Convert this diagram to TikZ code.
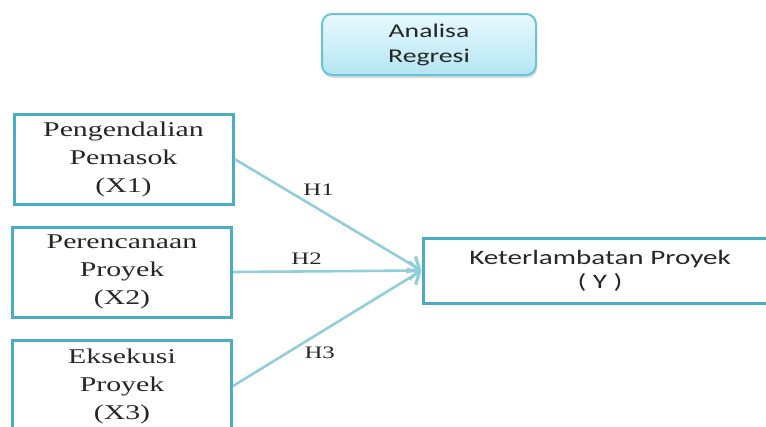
\documentclass[tikz,border=0pt]{standalone}
\usepackage{fontspec}
\usetikzlibrary{arrows.meta,shadows}
\newfontfamily\serifwide[FakeStretch=1.42]{Liberation Serif}
\newfontfamily\sanswide[FakeStretch=1.42]{Carlito}
\definecolor{boxline}{HTML}{4BACC6}
\definecolor{arrowline}{HTML}{92CDDC}
\definecolor{topfillA}{HTML}{E8F9FE}
\definecolor{topfillB}{HTML}{B3E5F3}
\definecolor{topline}{HTML}{6CC2D9}
\tikzset{
  varbox/.style={draw=boxline, line width=3pt, minimum width=219pt, minimum height=90pt,
    align=center, inner sep=0pt, text=black!85, font=\serifwide\fontsize{21}{28}\selectfont},
  resultbox/.style={draw=boxline, line width=3pt, minimum width=354pt, minimum height=65pt,
    align=center, text=black!85, font=\sanswide\fontsize{20.5}{24}\selectfont},
  methodbox/.style={draw=topline, line width=2pt, rounded corners=10pt, top color=topfillA,
    bottom color=topfillB, minimum width=214pt, minimum height=61pt, align=center,
    drop shadow={opacity=0.3, shadow xshift=1pt, shadow yshift=-3pt},
    text=black!85, font=\sanswide\fontsize{19.5}{25}\selectfont},
  link/.style={draw=arrowline, line width=2.6pt, -{Straight Barb[length=10pt,width=18pt,line width=3.2pt]}},
  hlabel/.style={font=\serifwide\fontsize{17.5}{20}\selectfont, text=black!85}
}
\begin{document}
\begin{tikzpicture}[x=1pt, y=-1pt]
  \useasboundingbox (0,0) rectangle (766,426);
  \clip (0,0) rectangle (766,426);
  % method
  \node[methodbox] (regresi) at (429,44.5) {Analisa\\Regresi};
  % variables
  \node[varbox] (x1) at (123.5,159) {Pengendalian\\Pemasok\\(X1)};
  \node[varbox] (x2) at (122,272) {Perencanaan\\Proyek\\(X2)};
  \node[varbox, minimum height=92pt] (x3) at (122,386) {Eksekusi\\Proyek\\(X3)};
  \node[resultbox] (y) at (600,270.5) {Keterlambatan Proyek\\( Y )};
  % hypotheses
  \draw[link] (x1.east) -- node[hlabel, pos=0.45, above=9pt] {H1} (y.west);
  \draw[link] (x2.east) -- node[hlabel, pos=0.39, above=2pt] {H2} (y.west);
  \draw[link] (x3.east) -- node[hlabel, pos=0.46, below=9pt] {H3} (y.west);
\end{tikzpicture}
\end{document}
